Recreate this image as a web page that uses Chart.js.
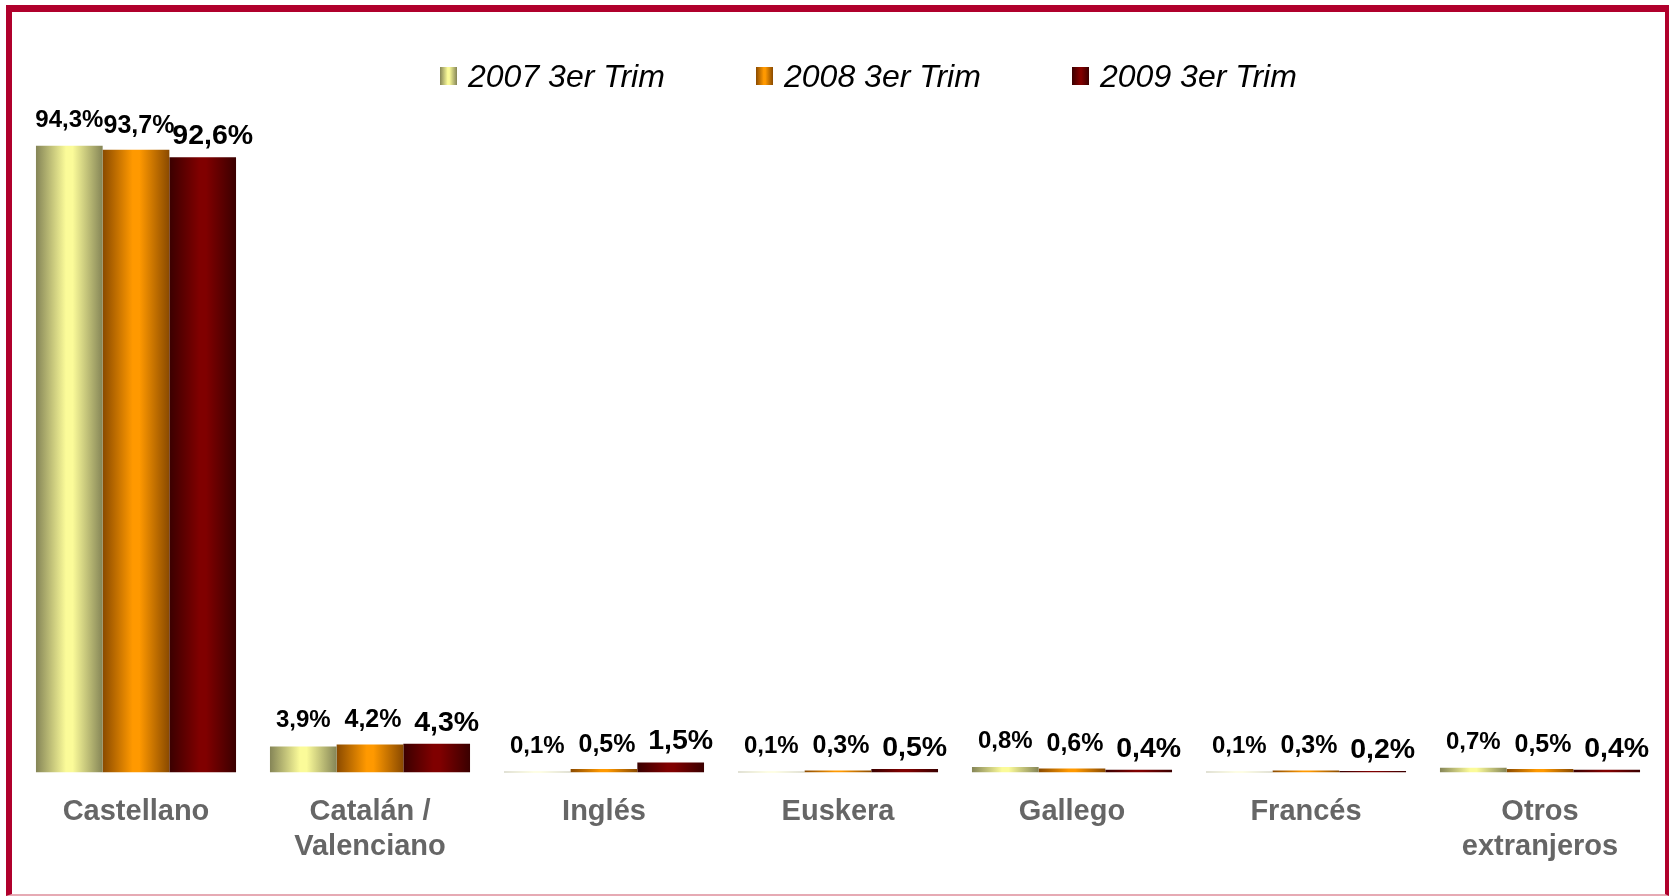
<!DOCTYPE html>
<html>
<head>
<meta charset="utf-8">
<script src="https://cdn.jsdelivr.net/npm/chart.js@4/dist/chart.umd.min.js"></script>
<style>
  body { margin: 0; background: #fff; }
  #wrap { position: relative; width: 1669px; height: 896px; overflow: hidden; }
  #frame {
    position: absolute; left: 6px; top: 5px; width: 1653px; height: 882px;
    border-top: 7px solid #b0002c; border-left: 6px solid #b0002c;
    border-right: 4px solid #b0002c; border-bottom: 2px solid #e6aab4;
    pointer-events: none;
  }
</style>
</head>
<body>
<div id="wrap">
  <canvas id="lang_chart" width="1669" height="896"></canvas>
  <div id="frame"></div>
</div>
<script>
// datos (% de uso por idioma)
const categories = ['Castellano', ['Catalán /', 'Valenciano'], 'Inglés', 'Euskera', 'Gallego', 'Francés', ['Otros', 'extranjeros']];
const seriesNames = ['2007 3er Trim', '2008 3er Trim', '2009 3er Trim'];
const values2007 = [94.3, 3.9, 0.1, 0.1, 0.8, 0.1, 0.7];
const values2008 = [93.7, 4.2, 0.5, 0.3, 0.6, 0.3, 0.5];
const values2009 = [92.6, 4.3, 1.5, 0.5, 0.4, 0.2, 0.4];

// estilo
const edgeColors = ['#858557', '#8a4a00', '#3a0000'];
const midColors = ['#fbfb99', '#ff9900', '#800000'];
const labelSizes = [24, 25, 28.5];
const labelLift = [19, 17, 13];
const labelShift = [0, 3, 10];

function makeGradient(c, x0, x1, i) {
    let g = c.createLinearGradient(x0, 0, x1, 0);
    g.addColorStop(0, edgeColors[i]);
    g.addColorStop(0.45, midColors[i]);
    g.addColorStop(0.55, midColors[i]);
    g.addColorStop(1, edgeColors[i]);
    return g;
}

function barFill(ctx) {
    let i = ctx.datasetIndex;
    let el = ctx.chart.getDatasetMeta(i).data[ctx.dataIndex];
    if (!el || typeof el.x !== 'number' || isNaN(el.x) || !el.width) return midColors[i];
    return makeGradient(ctx.chart.ctx, el.x - el.width / 2, el.x + el.width / 2, i);
}

function fmt(v) {
    return v.toFixed(1).replace('.', ',') + '%';
}

// etiquetas de valor encima de cada barra
const valueLabels = {
    id: 'valueLabels',
    afterDatasetsDraw(chart) {
        let c = chart.ctx;
        c.save();
        c.fillStyle = '#000';
        c.textAlign = 'center';
        c.textBaseline = 'alphabetic';
        chart.data.datasets.forEach(function (ds, i) {
            c.font = 'bold ' + labelSizes[i] + 'px "Liberation Sans", Arial, sans-serif';
            chart.getDatasetMeta(i).data.forEach(function (bar, j) {
                c.fillText(fmt(ds.data[j]), bar.x + labelShift[i], bar.y - labelLift[i]);
            });
        });
        c.restore();
    }
};

// leyenda arriba
const topLegend = {
    id: 'topLegend',
    afterDraw(chart) {
        let c = chart.ctx;
        let startX = 440, step = 316, boxW = 17, boxH = 18, midY = 78;
        c.save();
        c.font = 'italic 32px "Liberation Sans", Arial, sans-serif';
        c.textBaseline = 'middle';
        c.textAlign = 'left';
        chart.data.datasets.forEach(function (ds, i) {
            let x = startX + i * step;
            c.fillStyle = makeGradient(c, x, x + boxW, i);
            c.fillRect(x, midY - boxH / 2 - 2, boxW, boxH);
            c.fillStyle = '#000';
            c.fillText(ds.label, x + boxW + 11, midY);
        });
        c.restore();
    }
};

let langChart = new Chart(document.getElementById('lang_chart'), {
    type: 'bar',
    data: {
        labels: categories,
        datasets: [
            { label: seriesNames[0], data: values2007, backgroundColor: barFill },
            { label: seriesNames[1], data: values2008, backgroundColor: barFill },
            { label: seriesNames[2], data: values2009, backgroundColor: barFill }
        ]
    },
    options: {
        responsive: false,
        animation: false,
        layout: { padding: { top: 108, left: 19, right: 12, bottom: 18 } },
        datasets: { bar: { barPercentage: 1, categoryPercentage: 0.855 } },
        plugins: { legend: { display: false }, tooltip: { enabled: false } },
        scales: {
            x: {
                grid: { display: false },
                border: { display: false },
                ticks: {
                    autoSkip: false,
                    maxRotation: 0,
                    padding: 14,
                    color: '#666666',
                    font: { family: '"Liberation Sans", Arial, sans-serif', size: 29, weight: 'bold', lineHeight: 1.2 }
                }
            },
            y: { display: false, min: 0, max: 100 }
        }
    },
    plugins: [valueLabels, topLegend]
});
langChart.update();
</script>
</body>
</html>
